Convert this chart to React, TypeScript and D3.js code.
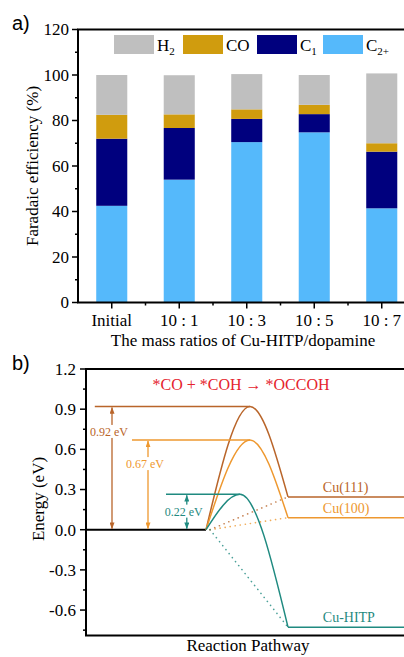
import React from "react";
import * as d3 from "d3";

// ---------- Panel a data ----------
const categories = ["Initial", "10 : 1", "10 : 3", "10 : 5", "10 : 7"];
const c2plus = [42.5, 54.0, 70.5, 74.8, 41.4];
const c1 = [29.5, 22.7, 10.2, 8.0, 24.9];
const co = [10.5, 6.0, 4.2, 4.1, 3.7];
const h2 = [17.5, 17.2, 15.5, 13.1, 30.7];
const seriesKeys = ["C2+", "C1", "CO", "H2"];
const yTicksA = [0, 20, 40, 60, 80, 100, 120];

// ---------- Panel b data ----------
const surfaces = ["Cu(111)", "Cu(100)", "Cu-HITP"];
const peakE = [0.92, 0.67, 0.264];
const finalE = [0.245, 0.09, -0.728];
const barrierLabels = ["0.92 eV", "0.67 eV", "0.22 eV"];
const barrierLabelE = [0.73, 0.49, 0.135];
// reaction coordinate (arbitrary units)
const levelStartX = [0.22, 1.15, 2.0];
const peakX = [4.1, 4.1, 3.85];
const arrowX = [0.65, 1.55, 2.52];
const startX = 3.0;
const endX = 5.05;
const yTicksB = [-0.6, -0.3, 0.0, 0.3, 0.6, 0.9, 1.2];

const colorsA: Record<string, string> = {
  H2: "#bfbfbf",
  CO: "#d09c0e",
  C1: "#00007e",
  "C2+": "#55b9fb",
};
const colorsB = ["#b9652a", "#ee982f", "#1f8a80"];

const SERIF = "'Liberation Serif', 'Times New Roman', serif";
const SANS = "'Liberation Sans', Arial, sans-serif";

export default function App() {
  // ----- panel a scales -----
  const xA = d3
    .scaleBand<string>()
    .domain(categories)
    .range([78, 415.5])
    .paddingInner(0.54)
    .paddingOuter(0.27);
  const yA = d3.scaleLinear().domain([0, 120]).range([302.5, 29.5]);
  const rows = categories.map((c, i) => ({
    cat: c,
    "C2+": c2plus[i],
    C1: c1[i],
    CO: co[i],
    H2: h2[i],
  }));
  const stacked = d3.stack<any>().keys(seriesKeys)(rows);
  const minorA = d3.range(10, 120, 20);

  // ----- panel b scales -----
  const xB = d3.scaleLinear().domain([0, 8]).range([86, 406]);
  const yB = d3.scaleLinear().domain([-0.79, 1.2]).range([635.5, 369]);
  const minorB = [-0.75, -0.45, -0.15, 0.15, 0.45, 0.75, 1.05];
  const curve = d3
    .line<[number, number]>()
    .x((d) => xB(d[0]))
    .y((d) => yB(d[1]))
    .curve(d3.curveMonotoneX);

  const legendItems = [
    { key: "H2", x: 114, label: "H", sub: "2" },
    { key: "CO", x: 183, label: "CO", sub: "" },
    { key: "C1", x: 257, label: "C", sub: "1" },
    { key: "C2+", x: 323, label: "C", sub: "2+" },
  ];

  return (
    <svg
      width={404}
      height={657}
      style={{ position: "absolute", left: 0, top: 0, background: "#fff" }}
      fontFamily={SERIF}
    >
      <defs>
        {colorsB.map((c, i) => (
          <marker
            key={i}
            id={`arr${i}`}
            viewBox="0 0 8 6"
            refX={7.5}
            refY={3}
            markerWidth={7}
            markerHeight={5}
            markerUnits="userSpaceOnUse"
            orient="auto-start-reverse"
          >
            <path d="M0,0 L8,3 L0,6 Z" fill={c} />
          </marker>
        ))}
      </defs>

      {/* ================= Panel a ================= */}
      <text x={12} y={30} fontFamily={SANS} fontSize={20}>
        a)
      </text>
      {stacked.map((s) => (
        <g key={s.key} fill={colorsA[s.key]}>
          {s.map((d, i) => (
            <rect
              key={i}
              x={xA(categories[i])}
              width={xA.bandwidth()}
              y={yA(d[1])}
              height={yA(d[0]) - yA(d[1])}
            />
          ))}
        </g>
      ))}
      {/* legend */}
      {legendItems.map((l) => (
        <g key={l.key}>
          <rect x={l.x} y={35} width={40} height={19} fill={colorsA[l.key]} />
          <text x={l.x + 43} y={51} fontSize={17}>
            {l.label}
            {l.sub && (
              <tspan fontSize={11} dy={4}>
                {l.sub}
              </tspan>
            )}
          </text>
        </g>
      ))}
      {/* frame */}
      <rect x={78} y={29.5} width={332} height={273} fill="none" stroke="#000" strokeWidth={2} />
      {/* y ticks */}
      {yTicksA.map((t) => (
        <g key={t}>
          <line x1={72} x2={78} y1={yA(t)} y2={yA(t)} stroke="#000" strokeWidth={1.5} />
          <text x={69} y={yA(t)} dy="0.35em" textAnchor="end" fontSize={17}>
            {t}
          </text>
        </g>
      ))}
      {minorA.map((t) => (
        <line key={t} x1={75} x2={78} y1={yA(t)} y2={yA(t)} stroke="#000" strokeWidth={1.5} />
      ))}
      {/* x ticks */}
      {categories.map((c, i) => {
        const cx = (xA(c) as number) + xA.bandwidth() / 2;
        return (
          <g key={c}>
            <line x1={cx} x2={cx} y1={302.5} y2={308.5} stroke="#000" strokeWidth={1.5} />
            <line
              x1={cx + xA.step() / 2}
              x2={cx + xA.step() / 2}
              y1={302.5}
              y2={305.5}
              stroke="#000"
              strokeWidth={1.5}
            />
            <text x={cx} y={326} textAnchor="middle" fontSize={17}>
              {c}
            </text>
          </g>
        );
      })}
      <text x={243} y={346} textAnchor="middle" fontSize={17}>
        The mass ratios of Cu-HITP/dopamine
      </text>
      <text
        transform="translate(32,166) rotate(-90)"
        textAnchor="middle"
        dy="0.35em"
        fontSize={17}
      >
        Faradaic efficiency (%)
      </text>

      {/* ================= Panel b ================= */}
      <text x={12} y={370} fontFamily={SANS} fontSize={20}>
        b)
      </text>
      <text x={241} y={390} textAnchor="middle" fontSize={16} fill="#e5232d">
        *CO + *COH → *OCCOH
      </text>
      {/* reference line */}
      <line x1={xB(0)} x2={xB(startX)} y1={yB(0)} y2={yB(0)} stroke="#000" strokeWidth={2} />
      {surfaces.map((s, i) => (
        <g key={s}>
          {/* dotted path to final state */}
          <line
            x1={xB(startX + 0.1)}
            y1={yB(0)}
            x2={xB(endX)}
            y2={yB(finalE[i])}
            stroke={colorsB[i]}
            strokeWidth={1.6}
            strokeDasharray="0.1 5"
            strokeLinecap="round"
            opacity={0.8}
          />
          {/* transition state level */}
          <line
            x1={xB(levelStartX[i])}
            x2={xB(peakX[i])}
            y1={yB(peakE[i])}
            y2={yB(peakE[i])}
            stroke={colorsB[i]}
            strokeWidth={1.5}
          />
          {/* barrier curve */}
          <path
            d={
              curve([
                [startX, 0],
                [peakX[i], peakE[i]],
                [endX, finalE[i]],
              ]) as string
            }
            fill="none"
            stroke={colorsB[i]}
            strokeWidth={1.5}
          />
          {/* final state level */}
          <line
            x1={xB(endX)}
            x2={xB(8)}
            y1={yB(finalE[i])}
            y2={yB(finalE[i])}
            stroke={colorsB[i]}
            strokeWidth={1.5}
          />
          {/* barrier arrow */}
          <line
            x1={xB(arrowX[i])}
            x2={xB(arrowX[i])}
            y1={yB(0) - 1}
            y2={yB(peakE[i]) + 1}
            stroke={colorsB[i]}
            strokeWidth={1.3}
            markerStart={`url(#arr${i})`}
            markerEnd={`url(#arr${i})`}
          />
          <rect
            x={xB(arrowX[i]) - 22}
            y={yB(barrierLabelE[i]) - 7}
            width={39}
            height={13}
            fill="#fff"
          />
          <text
            x={xB(arrowX[i]) - 3}
            y={yB(barrierLabelE[i])}
            dy="0.35em"
            textAnchor="middle"
            fontSize={12}
            fill={colorsB[i]}
          >
            {barrierLabels[i]}
          </text>
          <text
            x={xB(5.92)}
            y={yB(finalE[i]) - 5}
            fontSize={14}
            fill={colorsB[i]}
          >
            {s}
          </text>
        </g>
      ))}
      {/* frame */}
      <rect x={86} y={369} width={324} height={266.5} fill="none" stroke="#000" strokeWidth={2} />
      {yTicksB.map((t) => (
        <g key={t}>
          <line x1={80} x2={86} y1={yB(t)} y2={yB(t)} stroke="#000" strokeWidth={1.5} />
          <text x={76} y={yB(t)} dy="0.35em" textAnchor="end" fontSize={17}>
            {t.toFixed(1)}
          </text>
        </g>
      ))}
      {minorB.map((t) => (
        <line key={t} x1={83} x2={86} y1={yB(t)} y2={yB(t)} stroke="#000" strokeWidth={1.5} />
      ))}
      <text
        transform="translate(38,499) rotate(-90)"
        textAnchor="middle"
        dy="0.35em"
        fontSize={17}
      >
        Energy (eV)
      </text>
      <text x={248} y={651} textAnchor="middle" fontSize={17}>
        Reaction Pathway
      </text>
    </svg>
  );
}
